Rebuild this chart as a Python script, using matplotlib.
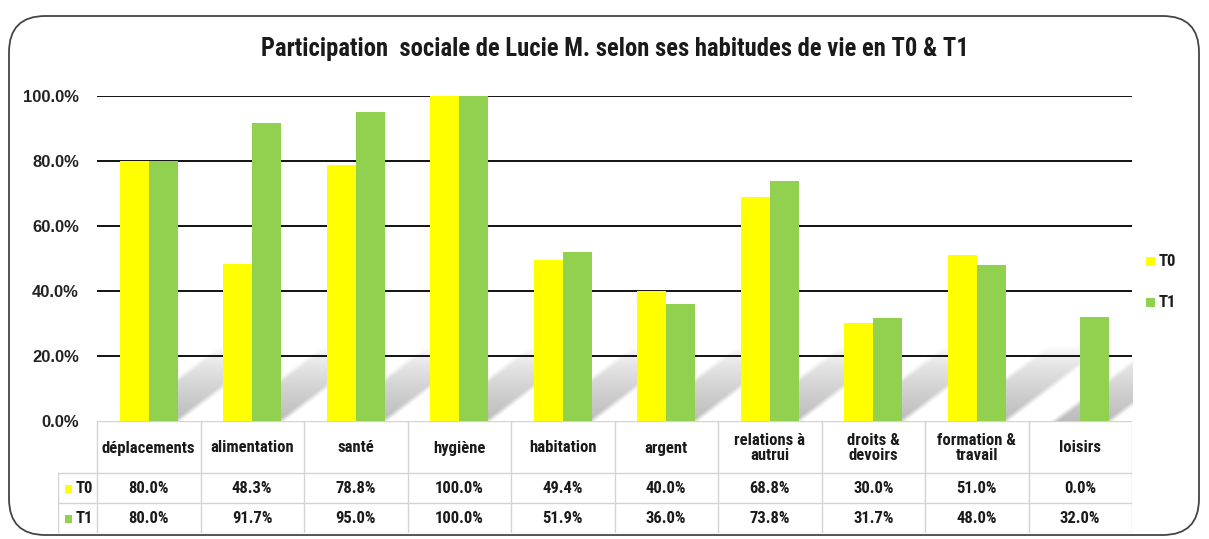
import matplotlib
matplotlib.use("Agg")
import matplotlib.pyplot as plt
from matplotlib import font_manager
from matplotlib.patches import FancyBboxPatch, Rectangle
import numpy as np

categories = ["déplacements", "alimentation", "santé", "hygiène", "habitation",
              "argent", "relations à\nautrui", "droits &\ndevoirs", "formation &\ntravail", "loisirs"]
t0 = [80.0, 48.3, 78.8, 100.0, 49.4, 40.0, 68.8, 30.0, 51.0, 0.0]
t1 = [80.0, 91.7, 95.0, 100.0, 51.9, 36.0, 73.8, 31.7, 48.0, 32.0]
series_names = ["T0", "T1"]
yticks = [0, 20, 40, 60, 80, 100]
title = "Participation  sociale de Lucie M. selon ses habitudes de vie en T0 & T1"

YELLOW = "#FFFF00"
GREEN = "#92D050"
TXT = "#1a1a1a"

def pick_font(names):
    for n in names:
        try:
            font_manager.findfont(n, fallback_to_default=False)
            return n
        except Exception:
            continue
    return "DejaVu Sans"

NARROW = pick_font(["Liberation Sans Narrow", "Roboto Condensed", "Arial Narrow", "Liberation Sans"])
WIDE = pick_font(["Liberation Sans", "Arial"])
plt.rcParams["font.family"] = [NARROW, "DejaVu Sans"]
plt.rcParams["font.weight"] = "bold"

W, H = 1209, 539
fig = plt.figure(figsize=(W / 100, H / 100), dpi=100)

def fx(px):
    return px / W

def fy(py):
    return 1 - py / H

# rounded border
border = FancyBboxPatch((fx(9), fy(535)), fx(1199) - fx(9), fy(16) - fy(535),
                        boxstyle="round,pad=0,rounding_size=0.03",
                        transform=fig.transFigure, fill=False, edgecolor="#454545",
                        linewidth=1.3, mutation_aspect=W / H)
fig.patches.append(border)

fig.text(fx(615), fy(49), title, ha="center", va="center", fontsize=17.7,
         fontweight="bold", color=TXT)

# main axes
left_px, right_px, top_px, bot_px = 97, 1132, 95.7, 421
ax = fig.add_axes([fx(left_px), fy(bot_px), fx(right_px) - fx(left_px), fy(top_px) - fy(bot_px)])
n = len(categories)
x = np.arange(n)
bw = 0.28

# soft perspective shadows behind each bar group
sh_h, sh_dx, soft, a0 = 23.0, 0.95, 0.08, 0.45
for i in range(n):
    x0, x1 = i - bw + 0.03, i + bw
    ex0, ex1 = x0 - soft * 2, x1 + sh_dx + soft * 2
    u = np.linspace(ex0, ex1, 300)
    v = np.linspace(0, sh_h, 120)
    U, V = np.meshgrid(u, v)
    S = U - sh_dx * V / sh_h
    left = np.clip((S - x0) / soft + 0.5, 0, 1)
    right = np.clip((x1 - S) / soft + 0.5, 0, 1)
    fade = np.clip(1 - V / sh_h, 0, 1) ** 0.7
    alpha = a0 * left * right * fade
    img = np.zeros(U.shape + (4,))
    img[..., :3] = 0.42
    img[..., 3] = alpha
    ax.imshow(img, extent=[ex0, ex1, 0, sh_h], origin="lower", aspect="auto",
              interpolation="bilinear", zorder=1)

for yv in yticks[1:]:
    ax.axhline(yv, color="#111111", linewidth=1.4, zorder=2)

ax.bar(x - bw / 2, t0, width=bw, color=YELLOW, zorder=3, label=series_names[0])
ax.bar(x + bw / 2, t1, width=bw, color=GREEN, zorder=3, label=series_names[1])
ax.set_xlim(-0.5, n - 0.5)
ax.set_ylim(0, 100)

for s in ax.spines.values():
    s.set_visible(False)
ax.set_xticks([])
ax.set_yticks(yticks)
ax.set_yticklabels([f"{v:.1f}%" for v in yticks], fontsize=12, fontweight="bold",
                   family=[WIDE, "DejaVu Sans"], color="#222222")
ax.tick_params(axis="y", length=0, pad=13)
ax.patch.set_alpha(0)

# legend
for j, (name, col) in enumerate(zip(series_names, [YELLOW, GREEN])):
    yy = 261.5 + j * 41
    fig.patches.append(Rectangle((fx(1146), fy(yy + 4.5)), fx(9), fy(0) - fy(9),
                                 transform=fig.transFigure, facecolor=col, edgecolor="none"))
    fig.text(fx(1159), fy(yy), name, ha="left", va="center", fontsize=12,
             fontweight="bold", color=TXT)

# data table
tab_left = 58
lab_w = (left_px - tab_left) / ((right_px - left_px) / n)
tax = fig.add_axes([fx(tab_left), fy(533), fx(right_px) - fx(tab_left), fy(421) - fy(533)])
tax.set_xlim(-0.5 - lab_w, n - 0.5)
tax.set_ylim(112, 0)
tax.axis("off")
gc = "#d3d3d3"
tax.plot([-0.5, n - 0.5], [0, 0], color=gc, lw=1)
for yv in [52, 82, 112]:
    tax.plot([-0.5 - lab_w, n - 0.5], [yv, yv], color=gc, lw=1)
tax.plot([-0.5 - lab_w, -0.5 - lab_w], [52, 112], color=gc, lw=1)
for i in range(n + 1):
    tax.plot([i - 0.5, i - 0.5], [0, 112], color=gc, lw=1)
for i, c in enumerate(categories):
    tax.text(i, 27, c, ha="center", va="center", fontsize=12, fontweight="bold",
             linespacing=1.05, color=TXT)
for r, (vals, col, name) in enumerate(zip([t0, t1], [YELLOW, GREEN], series_names)):
    yc = 67.5 + r * 30
    for i, v in enumerate(vals):
        tax.text(i, yc, f"{v:.1f}%", ha="center", va="center", fontsize=12,
                 fontweight="bold", color=TXT)
    tax.add_patch(Rectangle((-0.5 - lab_w + 0.065, yc - 4), 0.07, 8,
                            facecolor=col, edgecolor="none"))
    tax.text(-0.5 - lab_w + 0.17, yc, name, ha="left", va="center", fontsize=12,
             fontweight="bold", color=TXT)

fig.savefig("out.png", dpi=100)
